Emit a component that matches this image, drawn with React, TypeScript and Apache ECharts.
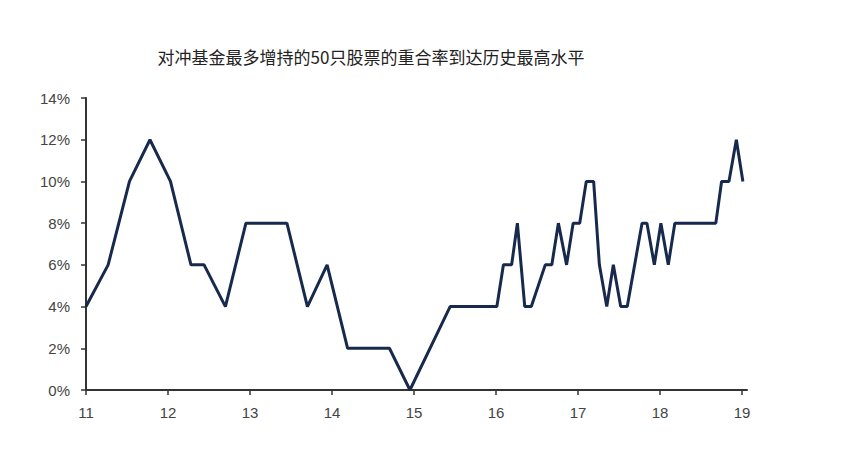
import React, { useEffect, useRef } from "react";
import * as echarts from "echarts";

const titleText = "对冲基金最多增持的50只股票的重合率到达历史最高水平";
const xTickValues = [11, 12, 13, 14, 15, 16, 17, 18, 19];
const xValues = [
  11.0, 11.27, 11.53, 11.78, 12.03, 12.28, 12.44, 12.7, 12.95, 13.45, 13.7, 13.94,
  14.19, 14.7, 14.95, 15.44, 16.01, 16.09, 16.19, 16.26, 16.35, 16.43, 16.6, 16.68,
  16.76, 16.86, 16.94, 17.02, 17.1, 17.19, 17.26, 17.35, 17.43, 17.52, 17.6, 17.78,
  17.84, 17.93, 18.01, 18.1, 18.18, 18.68, 18.75, 18.84, 18.93, 19.01,
];
const yValues = [
  4, 6, 10, 12, 10, 6, 6, 4, 8, 8, 4, 6,
  2, 2, 0, 4, 4, 6, 6, 8, 4, 4, 6, 6,
  8, 6, 8, 8, 10, 10, 6, 4, 6, 4, 4, 8,
  8, 6, 8, 6, 8, 8, 10, 10, 12, 10,
];

export default function App() {
  const ref = useRef<HTMLDivElement>(null);
  useEffect(() => {
    if (!ref.current) return;
    const chart = echarts.init(ref.current, undefined, { renderer: "svg" });
    const axisColor = "#333333";
    chart.setOption({
      animation: false,
      backgroundColor: "#ffffff",
      title: {
        text: titleText,
        left: 358,
        top: 35,
        textAlign: "center",
        textStyle: {
          fontFamily: "Noto Sans CJK SC",
          fontSize: 17,
          fontWeight: "normal",
          color: "#222222",
        },
      },
      grid: { left: 78, right: 106, top: 90, bottom: 73 },
      xAxis: {
        type: "value",
        min: 11,
        max: 19.06,
        interval: 1,
        splitLine: { show: false },
        axisLine: { lineStyle: { color: axisColor, width: 2 } },
        axisTick: {
          show: true,
          length: 5,
          customValues: xTickValues,
          lineStyle: { color: axisColor, width: 1.5 },
        },
        axisLabel: {
          customValues: xTickValues,
          margin: 15,
          color: "#444444",
          fontSize: 15,
          fontFamily: "Liberation Sans",
          formatter: (v: number) => String(v),
        },
      },
      yAxis: {
        type: "value",
        min: 0,
        max: 14,
        interval: 2,
        splitLine: { show: false },
        axisLine: { show: true, lineStyle: { color: axisColor, width: 2 } },
        axisTick: { show: true, length: 5, lineStyle: { color: axisColor, width: 1.5 } },
        axisLabel: {
          margin: 16,
          color: "#444444",
          fontSize: 15,
          fontFamily: "Liberation Sans",
          formatter: (v: number) => v + "%",
        },
      },
      series: [
        {
          type: "line",
          data: xValues.map((x, i) => [x, yValues[i]]),
          showSymbol: false,
          lineStyle: { color: "#172a4d", width: 3 },
          itemStyle: { color: "#172a4d" },
        },
      ],
    });
    return () => chart.dispose();
  }, []);
  return <div ref={ref} style={{ width: 845, height: 455 }} />;
}
